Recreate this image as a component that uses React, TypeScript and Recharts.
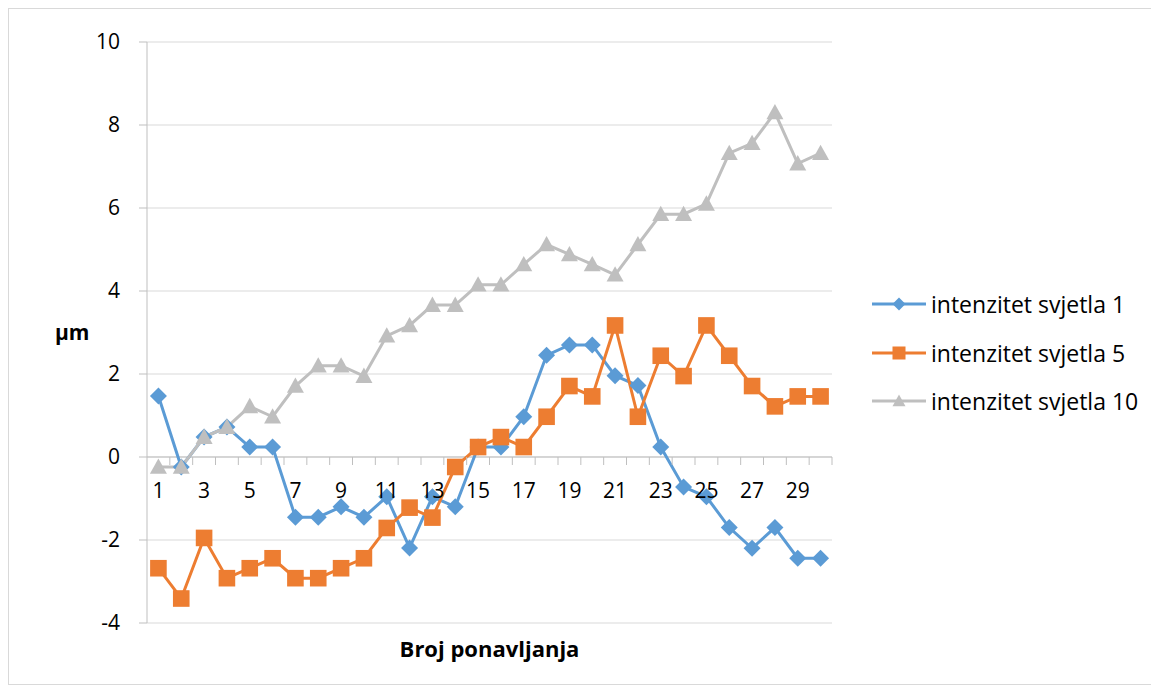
import { LineChart, Line, XAxis, YAxis, CartesianGrid, ReferenceLine } from 'recharts';

const categories = ['1', '2', '3', '4', '5', '6', '7', '8', '9', '10', '11', '12', '13', '14', '15', '16', '17', '18', '19', '20', '21', '22', '23', '24', '25', '26', '27', '28', '29', '30'];

const svjetla1 = [1.47, -0.24, 0.48, 0.72, 0.24, 0.24, -1.45, -1.45, -1.2, -1.45, -0.96, -2.19, -0.96, -1.2, 0.24, 0.24, 0.97, 2.45, 2.7, 2.7, 1.96, 1.72, 0.24, -0.72, -0.96, -1.7, -2.2, -1.7, -2.44, -2.44];
const svjetla5 = [-2.68, -3.41, -1.95, -2.92, -2.68, -2.44, -2.92, -2.92, -2.68, -2.44, -1.71, -1.22, -1.46, -0.24, 0.24, 0.48, 0.24, 0.97, 1.71, 1.46, 3.17, 0.97, 2.44, 1.95, 3.17, 2.44, 1.71, 1.22, 1.46, 1.46];
const svjetla10 = [-0.24, -0.24, 0.48, 0.72, 1.22, 0.97, 1.71, 2.2, 2.2, 1.95, 2.92, 3.17, 3.66, 3.66, 4.15, 4.15, 4.64, 5.12, 4.88, 4.64, 4.39, 5.12, 5.85, 5.85, 6.1, 7.32, 7.56, 8.3, 7.07, 7.32];

const yTicks = [-4, -2, 0, 2, 4, 6, 8, 10];

const data = categories.map((c, i) => ({
  name: c,
  s1: svjetla1[i],
  s5: svjetla5[i],
  s10: svjetla10[i],
}));

const FONT = '"Open Sans", "Liberation Sans", sans-serif';
const BLUE = '#5b9bd5';
const ORANGE = '#ed7d31';
const GRAY = '#bfbfbf';
const AXIS = '#bfbfbf';
const GRID = '#d9d9d9';

const W = 1149;
const H = 675;
const M = { top: 33, right: 326, left: 0, bottom: 0 };
const Y_AXIS_W = 138;
const X_AXIS_H = 61;
const PLOT_W = W - M.right - Y_AXIS_W;
const PLOT_H = H - M.top - X_AXIS_H;
const STEP = PLOT_W / categories.length;

const Diamond = ({ cx, cy, r = 8, color }: any) => (
  <polygon points={`${cx},${cy - r} ${cx + r},${cy} ${cx},${cy + r} ${cx - r},${cy}`} fill={color} />
);
const Square = ({ cx, cy, r = 8, color }: any) => (
  <rect x={cx - r} y={cy - r} width={r * 2} height={r * 2} fill={color} />
);
const Triangle = ({ cx, cy, r = 8, color }: any) => (
  <polygon points={`${cx},${cy - r} ${cx + r},${cy + r * 0.8} ${cx - r},${cy + r * 0.8}`} fill={color} />
);

const CategoryTick = (props: any) => {
  const { x, y, payload, index } = props;
  const zeroY = y - (PLOT_H * (0 - yTicks[0])) / (yTicks[yTicks.length - 1] - yTicks[0]);
  return (
    <g>
      <line x1={x + STEP / 2} x2={x + STEP / 2} y1={zeroY} y2={zeroY + 8} stroke={AXIS} />
      {index % 2 === 0 && (
        <text x={x} y={zeroY + 41} textAnchor="middle" fontSize={21} fontFamily={FONT} fill="#000">
          {payload.value}
        </text>
      )}
    </g>
  );
};

const legendItems = [
  { name: 'intenzitet svjetla 1', color: BLUE, Shape: Diamond },
  { name: 'intenzitet svjetla 5', color: ORANGE, Shape: Square },
  { name: 'intenzitet svjetla 10', color: GRAY, Shape: Triangle },
];

export default function App() {
  return (
    <div style={{ position: 'relative', width: W, height: H, border: '1px solid #d9d9d9' }}>
      <LineChart width={W} height={H} data={data} margin={M}>
        <CartesianGrid vertical={false} stroke={GRID} />
        <XAxis
          dataKey="name"
          height={X_AXIS_H}
          interval={0}
          axisLine={false}
          tickLine={false}
          tickSize={0}
          tickMargin={0}
          padding={{ left: STEP / 2, right: STEP / 2 }}
          tick={<CategoryTick />}
          label={{ value: 'Broj ponavljanja', position: 'insideBottom', offset: 27, fontSize: 22, fontWeight: 'bold', fontFamily: FONT, fill: '#000' }}
        />
        <YAxis
          width={Y_AXIS_W}
          domain={[-4, 10]}
          ticks={yTicks}
          stroke={AXIS}
          tickSize={8}
          tickMargin={19}
          tick={{ fontSize: 21, fontFamily: FONT, fill: '#000' }}
          label={{ value: 'µm', position: 'insideLeft', offset: 46, fontSize: 21, fontWeight: 'bold', fontFamily: FONT, fill: '#000' }}
        />
        <ReferenceLine y={0} stroke={AXIS} />
        <Line dataKey="s1" stroke={BLUE} strokeWidth={3} isAnimationActive={false}
          dot={(p: any) => <Diamond key={p.index} cx={p.cx} cy={p.cy} r={8.5} color={BLUE} />} activeDot={false} />
        <Line dataKey="s5" stroke={ORANGE} strokeWidth={3} isAnimationActive={false}
          dot={(p: any) => <Square key={p.index} cx={p.cx} cy={p.cy} r={8.3} color={ORANGE} />} activeDot={false} />
        <Line dataKey="s10" stroke={GRAY} strokeWidth={3} isAnimationActive={false}
          dot={(p: any) => <Triangle key={p.index} cx={p.cx} cy={p.cy} r={8.5} color={GRAY} />} activeDot={false} />
      </LineChart>
      <div style={{ position: 'absolute', left: 863, top: 271, fontFamily: FONT, fontSize: 23 }}>
        {legendItems.map(({ name, color, Shape }) => (
          <div key={name} style={{ display: 'flex', alignItems: 'center', height: 48.5 }}>
            <svg width={58} height={20}>
              <line x1={0} x2={54} y1={10} y2={10} stroke={color} strokeWidth={3} />
              <Shape cx={27} cy={10} r={6.5} color={color} />
            </svg>
            <span style={{ marginLeft: 1 }}>{name}</span>
          </div>
        ))}
      </div>
    </div>
  );
}
